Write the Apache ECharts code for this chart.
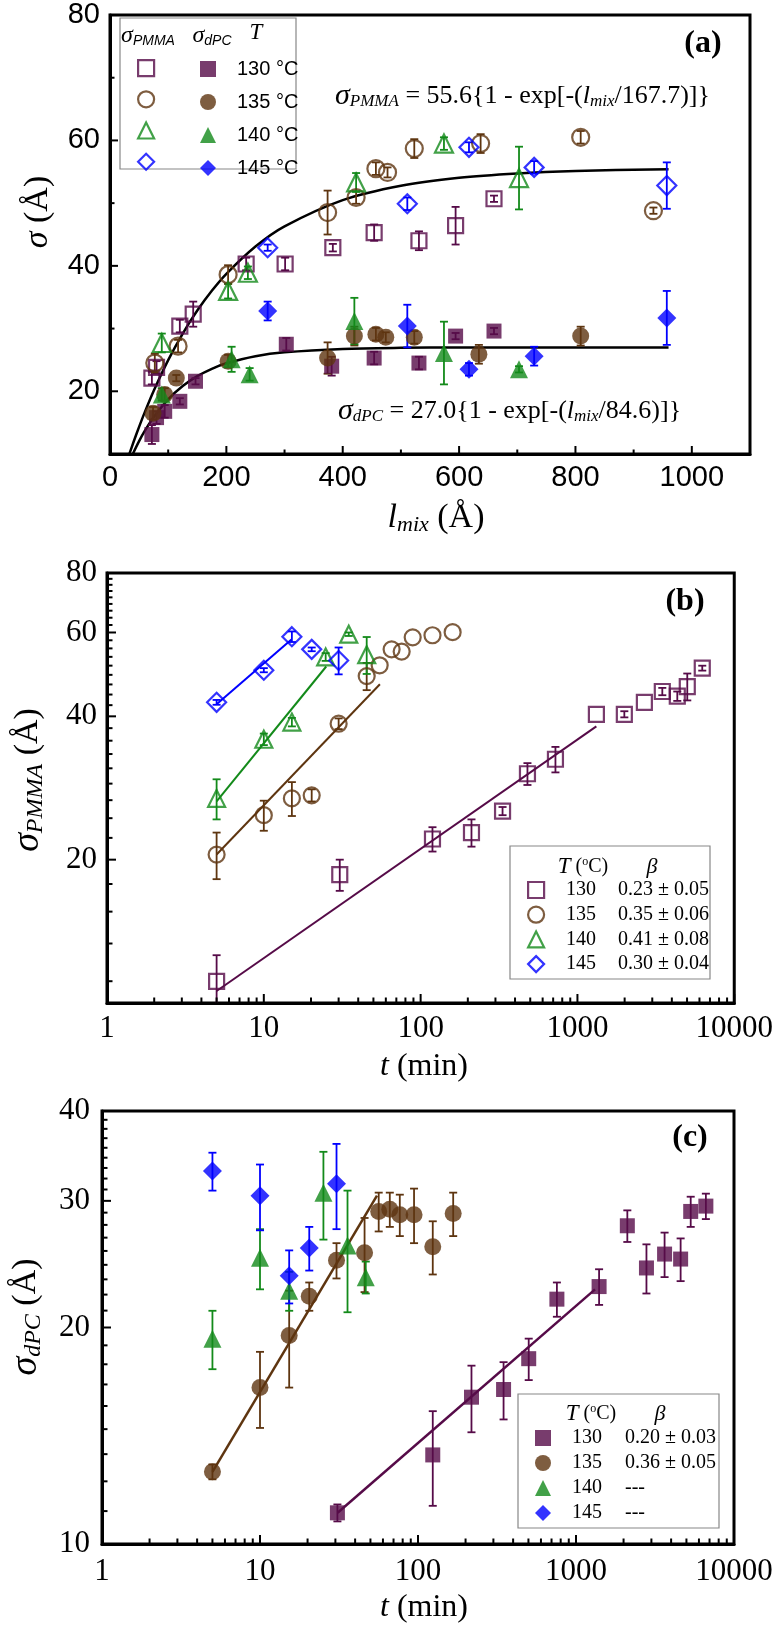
<!DOCTYPE html>
<html>
<head>
<meta charset="utf-8">
<script src="https://cdn.jsdelivr.net/npm/echarts@6/dist/echarts.min.js"></script>
<style>
  html, body { margin: 0; padding: 0; background: #fff; }
  #chart { width: 776px; height: 1631px; }
</style>
</head>
<body>
<div id="chart"></div>
<script>
const SERIF = '"Liberation Serif", "Times New Roman", serif';
const SANS = '"Liberation Sans", Arial, sans-serif';
const PURPLE = '#560b48', BROWN = '#5e3510', GREEN = '#138a1a', BLUE = '#0000ff';

// ---- (a) sigma vs l_mix ----
const aLP130 = [72, 80, 120, 143, 234, 301, 383, 454, 531, 594, 660];
const aSP130 = [22.1, 23.8, 30.4, 32.3, 40.3, 40.3, 42.9, 45.3, 44.0, 46.4, 50.7];
const aEP130 = [1.0, 1.0, 1.0, 2.0, 1.0, 1.0, 0.6, 1.3, 1.5, 3.0, 0.5];
const aLP135 = [77, 117, 203, 374, 423, 457, 477, 523, 637, 809, 934];
const aSP135 = [24.5, 27.2, 38.6, 48.5, 50.9, 55.5, 54.9, 58.7, 59.5, 60.5, 48.8];
const aEP135 = [1.5, 1.0, 1.5, 3.5, 1.0, 1.0, 0.8, 1.5, 1.5, 1.0, 0.5];
const aLP140 = [89, 203, 237, 423, 574, 703];
const aSP140 = [27.7, 36.0, 38.9, 53.3, 59.5, 54.0];
const aEP140 = [1.5, 1.2, 1.0, 1.5, 1.0, 5.0];
const aLP145 = [271, 511, 617, 729, 957];
const aSP145 = [42.9, 49.9, 58.9, 55.7, 52.8];
const aEP145 = [0.5, 1.0, 0.8, 1.0, 3.7];

const aLD130 = [72, 80, 94, 120, 147, 303, 381, 454, 531, 594, 660];
const aSD130 = [13.1, 15.8, 16.8, 18.4, 21.6, 27.5, 24.0, 25.3, 24.5, 28.8, 29.6];
const aED130 = [1.5, 1.0, 1.0, 0.5, 0.5, 1.0, 1.5, 1.0, 1.0, 0.5, 0.5];
const aLD135 = [74, 94, 114, 203, 374, 420, 457, 474, 523, 634, 809];
const aSD135 = [16.5, 19.5, 22.1, 24.8, 25.3, 28.8, 29.1, 28.6, 28.6, 25.9, 28.8];
const aED135 = [1.0, 1.0, 0.5, 1.0, 2.5, 1.5, 1.0, 0.8, 1.0, 1.5, 1.5];
const aLD140 = [89, 209, 240, 420, 574, 703];
const aSD140 = [19.5, 25.1, 22.7, 31.2, 26.1, 23.5];
const aED140 = [1.0, 2.0, 1.0, 3.7, 5.0, 0.5];
const aLD145 = [271, 511, 617, 729, 957];
const aSD145 = [32.8, 30.4, 23.5, 25.6, 31.7];
const aED145 = [1.5, 3.4, 1.0, 1.5, 4.3];

// fit curves
const aFitPL = [33, 40, 50, 60, 75, 100, 125, 150, 175, 200, 250, 300, 400, 500, 600, 700, 800, 960];
const aFitPS = [9.93, 11.8, 14.33, 16.72, 20.05, 24.97, 29.21, 32.87, 36.02, 38.73, 43.08, 46.3, 50.48, 52.78, 54.05, 54.74, 55.13, 55.42];
const aFitDL = [39, 50, 60, 75, 100, 125, 150, 175, 200, 250, 300, 400, 500, 600, 700, 800, 960];
const aFitDS = [9.97, 12.05, 13.72, 15.87, 18.72, 20.84, 22.41, 23.59, 24.46, 25.59, 26.22, 26.76, 26.93, 26.98, 27.0, 27.0, 27.0];

const aXMajor = [0, 200, 400, 600, 800, 1000];
const aXMinor = [100, 300, 500, 700, 900];
const aYMajor = [20, 40, 60, 80];
const aYMinor = [30, 50, 70];
const aLegendT = ['130', '135', '140', '145'];

// ---- (b) sigma_PMMA vs t ----
const bT130 = [5, 30.5, 119, 211, 333, 480, 724, 1321, 1991, 2672, 3477, 4333, 5017, 6252];
const bS130 = [11.1, 18.6, 22.1, 22.8, 25.3, 30.3, 32.5, 40.4, 40.4, 42.8, 45.1, 44.1, 46.2, 50.5];
const bE130 = [1.5, 1.4, 1.3, 1.5, 0.5, 1.6, 2.0, 0, 0.6, 0, 0.8, 1.0, 3.0, 0.6];
const bT135 = [5, 10, 15.1, 20.2, 30, 45.3, 54.8, 65.3, 75.7, 89, 119, 160];
const bS135 = [20.5, 24.8, 26.9, 27.3, 38.6, 48.6, 51.2, 55.3, 54.7, 58.6, 59.2, 60.1];
const bE135 = [2.3, 1.8, 2.2, 0.8, 1.0, 3.2, 0, 0, 0, 0, 0, 0];
const bT140 = [5, 10, 15.1, 24.8, 34.8, 45.3];
const bS140 = [26.9, 35.8, 38.9, 53.3, 59.5, 53.9];
const bE140 = [2.6, 1.0, 0.8, 1.0, 0.5, 4.8];
const bT145 = [5, 10, 15.1, 20.2, 30];
const bS145 = [42.8, 50.0, 58.8, 55.3, 52.4];
const bE145 = [0.5, 0.5, 1.5, 0.5, 3.4];
const bFit130T = [5, 1320], bFit130S = [10.6, 38.1];
const bFit135T = [5, 55], bFit135S = [20.5, 46.7];
const bFit140T = [5, 25], bFit140S = [26.5, 50.9];
const bFit145T = [5, 15], bFit145S = [42.4, 58.0];
const bBeta = ['0.23 ± 0.05', '0.35 ± 0.06', '0.41 ± 0.08', '0.30 ± 0.04'];

// ---- (c) sigma_dPC vs t ----
const cT130 = [30.9, 124, 218, 348, 502, 757, 1400, 2113, 2792, 3636, 4594, 5321, 6637];
const cS130 = [11.05, 13.3, 16.0, 16.4, 18.1, 21.9, 22.8, 27.7, 24.2, 25.3, 24.9, 29.0, 29.5];
const cE130 = [0.3, 2.0, 1.7, 1.5, 1.2, 1.2, 1.3, 1.4, 1.9, 1.8, 1.7, 1.4, 1.2];
const cT135 = [5, 10, 15.3, 20.5, 30.5, 45.9, 56.4, 66.3, 76.7, 94.4, 124, 167];
const cS135 = [12.6, 16.5, 19.5, 22.1, 24.8, 25.4, 29.0, 29.2, 28.7, 28.7, 25.9, 28.8];
const cE135 = [0.3, 2.0, 3.0, 1.0, 1.4, 3.0, 1.8, 1.6, 1.9, 2.5, 2.2, 2.0];
const cT140 = [5, 10, 15.3, 25.2, 35.8, 46.7];
const cS140 = [19.3, 25.0, 22.5, 30.8, 26.0, 23.5];
const cE140 = [1.8, 2.4, 1.4, 4.3, 5.0, 1.2];
const cT145 = [5, 10, 15.3, 20.5, 30.5];
const cS145 = [33.0, 30.5, 23.6, 25.8, 31.7];
const cE145 = [2.0, 3.2, 2.0, 1.8, 4.3];
const cFit130T = [31, 1320], cFit130S = [11.05, 22.6];
const cFit135T = [5, 55], cFit135S = [12.6, 30.5];
const cBeta = ['0.20 ± 0.03', '0.36 ± 0.05', '---', '---'];

const tMajor = [1, 10, 100, 1000, 10000];
const tMinor = [2, 3, 4, 5, 6, 7, 8, 9, 20, 30, 40, 50, 60, 70, 80, 90,
  200, 300, 400, 500, 600, 700, 800, 900, 2000, 3000, 4000, 5000, 6000, 7000, 8000, 9000];
const bYMajor = [20, 40, 60, 80];
const cYMajor = [10, 20, 30, 40];

// Origin style minor ticks: 8 evenly spaced values between major ticks
function minorBetween(majors, n) {
  const out = [];
  for (let i = 0; i < majors.length - 1; i++) {
    const step = (majors[i + 1] - majors[i]) / (n + 1);
    for (let k = 1; k <= n; k++) out.push(+(majors[i] + k * step).toFixed(3));
  }
  return out;
}
const bYMinor = minorBetween([0].concat(bYMajor), 8).filter(v => v > 10);
const cYMinor = minorBetween(cYMajor, 8);

// ---- helpers ----
const pairs = (xs, ys) => xs.map((x, i) => [x, ys[i]]);
const openStyle = c => ({ color: 'rgba(0,0,0,0)', borderColor: c, borderWidth: 2.2 });
const fillStyle = c => ({ color: c, borderColor: c, borderWidth: 0 });

function scatter(name, xs, ys, symbol, size, style, ax) {
  return { type: 'scatter', name, xAxisIndex: ax, yAxisIndex: ax, symbol, symbolSize: size,
    itemStyle: style, data: pairs(xs, ys), z: 4, silent: true };
}
function errBars(xs, ys, es, color, ax) {
  const data = [];
  xs.forEach((x, i) => { if (es[i] > 0) data.push([x, ys[i], ys[i] - es[i], ys[i] + es[i]]); });
  return {
    type: 'custom', xAxisIndex: ax, yAxisIndex: ax, clip: true, silent: true, z: 3, data,
    renderItem(params, api) {
      const x = api.value(0);
      const top = api.coord([x, api.value(3)]);
      const bot = api.coord([x, api.value(2)]);
      const cap = 4;
      const st = { stroke: color, lineWidth: 1.8 };
      return { type: 'group', children: [
        { type: 'line', shape: { x1: top[0], y1: top[1], x2: bot[0], y2: bot[1] }, style: st },
        { type: 'line', shape: { x1: top[0] - cap, y1: top[1], x2: top[0] + cap, y2: top[1] }, style: st },
        { type: 'line', shape: { x1: bot[0] - cap, y1: bot[1], x2: bot[0] + cap, y2: bot[1] }, style: st }
      ] };
    }
  };
}
function fitLine(xs, ys, color, width, ax, smooth) {
  return { type: 'line', xAxisIndex: ax, yAxisIndex: ax, data: pairs(xs, ys), showSymbol: false,
    smooth: smooth || false, lineStyle: { color, width }, z: 2, silent: true, clip: true };
}
// inward tick marks drawn through the axis scales: [x, y, dir(0 = x axis, 1 = y axis), major]
function ticks(ax, xMin, yMin, xMaj, xMin2, yMaj, yMin2, majLen, minLen) {
  const data = [];
  xMaj.forEach(v => data.push([v, yMin, 0, 1]));
  xMin2.forEach(v => data.push([v, yMin, 0, 0]));
  yMaj.forEach(v => data.push([xMin, v, 1, 1]));
  yMin2.forEach(v => data.push([xMin, v, 1, 0]));
  return {
    type: 'custom', xAxisIndex: ax, yAxisIndex: ax, clip: false, silent: true, z: 6, data,
    renderItem(params, api) {
      const p = api.coord([api.value(0), api.value(1)]);
      const len = api.value(3) ? majLen : minLen;
      const vertical = api.value(2) === 0;
      return { type: 'line', shape: vertical
          ? { x1: p[0], y1: p[1], x2: p[0], y2: p[1] - len }
          : { x1: p[0], y1: p[1], x2: p[0] + len, y2: p[1] },
        style: { stroke: '#000', lineWidth: 2 } };
    }
  };
}

function axis(grid, type, min, max, labels, pos, label) {
  const ax = { gridIndex: grid, type, min, max, position: pos,
    axisLine: { show: true, onZero: false, lineStyle: { color: '#000', width: 3 } },
    axisTick: { show: false },
    axisLabel: Object.assign({ customValues: labels, formatter: v => String(v), color: '#000' }, label),
    splitLine: { show: false } };
  if (type === 'log') ax.logBase = 10;
  return ax;
}

const sansLab = { fontFamily: SANS, fontSize: 29 };
const serifLab = { fontFamily: SERIF, fontSize: 31 };

const xAxis = [
  axis(0, 'value', 0, 1100, aXMajor, 'bottom', Object.assign({ margin: 9 }, sansLab)),
  axis(1, 'log', 1, 10000, tMajor, 'bottom', Object.assign({ margin: 10 }, serifLab)),
  axis(2, 'log', 1, 10000, tMajor, 'bottom', Object.assign({ margin: 12 }, serifLab))
];
const yAxis = [
  axis(0, 'value', 10, 80, aYMajor, 'left', Object.assign({ margin: 10 }, sansLab)),
  axis(1, 'log', 10, 80, bYMajor, 'left', Object.assign({ margin: 10 }, serifLab)),
  axis(2, 'log', 10, 40, cYMajor, 'left', Object.assign({ margin: 12 }, serifLab))
];

const series = [
  ticks(0, 0, 10, aXMajor, aXMinor, aYMajor, aYMinor, 8, 4.5),
  ticks(1, 1, 10, tMajor, tMinor, bYMajor, bYMinor, 9, 5.5),
  ticks(2, 1, 10, tMajor, tMinor, cYMajor, cYMinor, 9, 5.5),

  fitLine(aFitPL, aFitPS, '#000', 2.5, 0, 0.3),
  fitLine(aFitDL, aFitDS, '#000', 2.5, 0, 0.3),
  errBars(aLP130, aSP130, aEP130, PURPLE, 0), scatter('aP130', aLP130, aSP130, 'rect', 15, openStyle(PURPLE), 0),
  errBars(aLP135, aSP135, aEP135, BROWN, 0), scatter('aP135', aLP135, aSP135, 'circle', 17, openStyle(BROWN), 0),
  errBars(aLP140, aSP140, aEP140, GREEN, 0), scatter('aP140', aLP140, aSP140, 'triangle', 18, openStyle(GREEN), 0),
  errBars(aLP145, aSP145, aEP145, BLUE, 0), scatter('aP145', aLP145, aSP145, 'diamond', 19, openStyle(BLUE), 0),
  errBars(aLD130, aSD130, aED130, PURPLE, 0), scatter('aD130', aLD130, aSD130, 'rect', 15, fillStyle(PURPLE), 0),
  errBars(aLD135, aSD135, aED135, BROWN, 0), scatter('aD135', aLD135, aSD135, 'circle', 17, fillStyle(BROWN), 0),
  errBars(aLD140, aSD140, aED140, GREEN, 0), scatter('aD140', aLD140, aSD140, 'triangle', 18, fillStyle(GREEN), 0),
  errBars(aLD145, aSD145, aED145, BLUE, 0), scatter('aD145', aLD145, aSD145, 'diamond', 19, fillStyle(BLUE), 0),

  fitLine(bFit130T, bFit130S, PURPLE, 2, 1), fitLine(bFit135T, bFit135S, BROWN, 2, 1),
  fitLine(bFit140T, bFit140S, GREEN, 2, 1), fitLine(bFit145T, bFit145S, BLUE, 2, 1),
  errBars(bT130, bS130, bE130, PURPLE, 1), scatter('b130', bT130, bS130, 'rect', 15, openStyle(PURPLE), 1),
  errBars(bT135, bS135, bE135, BROWN, 1), scatter('b135', bT135, bS135, 'circle', 16, openStyle(BROWN), 1),
  errBars(bT140, bS140, bE140, GREEN, 1), scatter('b140', bT140, bS140, 'triangle', 17, openStyle(GREEN), 1),
  errBars(bT145, bS145, bE145, BLUE, 1), scatter('b145', bT145, bS145, 'diamond', 19, openStyle(BLUE), 1),

  fitLine(cFit130T, cFit130S, PURPLE, 2.5, 2), fitLine(cFit135T, cFit135S, BROWN, 2.5, 2),
  errBars(cT130, cS130, cE130, PURPLE, 2), scatter('c130', cT130, cS130, 'rect', 15, fillStyle(PURPLE), 2),
  errBars(cT135, cS135, cE135, BROWN, 2), scatter('c135', cT135, cS135, 'circle', 17, fillStyle(BROWN), 2),
  errBars(cT140, cS140, cE140, GREEN, 2), scatter('c140', cT140, cS140, 'triangle', 18, fillStyle(GREEN), 2),
  errBars(cT145, cS145, cE145, BLUE, 2), scatter('c145', cT145, cS145, 'diamond', 19, fillStyle(BLUE), 2)
];

const icons = ['rect', 'circle', 'triangle', 'diamond'];
const cols = [PURPLE, BROWN, GREEN, BLUE];
const legItems = (prefix, open) => aLegendT.map((t, i) => ({
  name: prefix + t, icon: icons[i], itemStyle: open ? openStyle(cols[i]) : fillStyle(cols[i]) }));

const betaRich = {
  n: { fontFamily: SERIF, fontSize: 20, lineHeight: 20, color: '#000', padding: [0, 0, 0, 17], width: 52 },
  b: { fontFamily: SERIF, fontSize: 20, lineHeight: 20, color: '#000' }
};
const legend = [
  { left: 137, top: 59, orient: 'vertical', padding: 0, itemWidth: 16, itemHeight: 16, itemGap: 13,
    selectedMode: false, data: legItems('aP', true), formatter: () => '',
    textStyle: { fontSize: 10, lineHeight: 16 } },
  { left: 200, top: 59, orient: 'vertical', padding: 0, itemWidth: 16, itemHeight: 16, itemGap: 13,
    selectedMode: false, data: legItems('aD', false), formatter: n => n.slice(2) + ' °C',
    textStyle: { fontFamily: SANS, fontSize: 20, lineHeight: 16, color: '#000', padding: [0, 0, 0, 16] } },
  { left: 527, top: 880, orient: 'vertical', padding: 0, itemWidth: 16, itemHeight: 16, itemGap: 4.7,
    selectedMode: false, data: legItems('b', true),
    formatter: n => '{n|' + n.slice(1) + '}{b|' + bBeta[aLegendT.indexOf(n.slice(1))] + '}',
    textStyle: { fontFamily: SERIF, fontSize: 20, lineHeight: 20, color: '#000', rich: betaRich } },
  { left: 535, top: 1428, orient: 'vertical', padding: 0, itemWidth: 16, itemHeight: 16, itemGap: 5,
    selectedMode: false, data: legItems('c', false),
    formatter: n => '{n|' + n.slice(1) + '}{b|' + cBeta[aLegendT.indexOf(n.slice(1))] + '}',
    textStyle: { fontFamily: SERIF, fontSize: 20, lineHeight: 20, color: '#000',
      rich: Object.assign({}, betaRich, { n: Object.assign({}, betaRich.n, { padding: [0, 0, 0, 16], width: 53 }) }) } }
];

// rich text styles for labels
const rt = (size, italic, drop, fam) => ({ fontFamily: fam || SERIF, fontSize: size,
  fontStyle: italic ? 'italic' : 'normal', fill: '#000', padding: [drop || 0, 0, 0, 0] });
function txt(x, y, text, rich, base, extra) {
  return Object.assign({ type: 'text', x, y, z: 10, silent: true,
    style: Object.assign({ text, rich, fill: '#000', align: 'center', verticalAlign: 'middle',
      fontFamily: SERIF }, base) }, extra || {});
}
const eqRich = { s: rt(30, true), p: rt(17, true, 12), t: rt(26), i: rt(26, true), m: rt(17, true, 12) };
const hdrRich = { s: rt(24, true), p: rt(14, true, 10, SANS), T: rt(23, true), t: rt(20), o: rt(12, false, 0), b: rt(22, true) };
hdrRich.o.padding = [0, 0, 10, 0];

const graphic = [
  { type: 'rect', shape: { x: 120, y: 18, width: 176, height: 151 }, style: { fill: '#fff', stroke: '#888', lineWidth: 1.2 }, z: 1, silent: true },
  { type: 'rect', shape: { x: 510, y: 846, width: 200, height: 133 }, style: { fill: '#fff', stroke: '#888', lineWidth: 1.2 }, z: 1, silent: true },
  { type: 'rect', shape: { x: 518, y: 1394, width: 201, height: 134 }, style: { fill: '#fff', stroke: '#888', lineWidth: 1.2 }, z: 1, silent: true },
  txt(148, 36, '{s|σ}{p|PMMA}', hdrRich, {}),
  txt(212, 36, '{s|σ}{p|dPC}', hdrRich, {}),
  txt(256, 33, '{T|T}', hdrRich, {}),
  txt(583, 867, '{T|T}{t| (}{o|o}{t|C)}', hdrRich, {}),
  txt(652, 867, '{b|β}', hdrRich, {}),
  txt(591, 1414, '{T|T}{t| (}{o|o}{t|C)}', hdrRich, {}),
  txt(660, 1414, '{b|β}', hdrRich, {}),
  txt(335, 96, '{s|σ}{p|PMMA}{t| = 55.6{1 - exp[-(}{i|l}{m|mix}{t|/167.7)]}}', eqRich, { align: 'left', fontSize: 26 }),
  txt(338, 411, '{s|σ}{p|dPC}{t| = 27.0{1 - exp[-(}{i|l}{m|mix}{t|/84.6)]}}', eqRich, { align: 'left', fontSize: 26 }),
  txt(703, 44, '(a)', null, { fontSize: 32, fontWeight: 'bold' }),
  txt(685, 602, '(b)', null, { fontSize: 32, fontWeight: 'bold' }),
  txt(690, 1138, '(c)', null, { fontSize: 32, fontWeight: 'bold' }),
  // axis titles
  txt(436, 518, '{i|l}{m|mix}{t| (Å)}', { i: rt(34, true), m: rt(22, true, 14), t: rt(34) }, { fontSize: 34 }),
  txt(38, 212, '{s|σ}{t| (Å)}', { s: rt(34, true), t: rt(34) }, { fontSize: 34 }, { rotation: Math.PI / 2 }),
  txt(424, 1067, '{i|t}{t| (min)}', { i: rt(32, true), t: rt(32) }, { fontSize: 32 }),
  txt(424, 1608, '{i|t}{t| (min)}', { i: rt(32, true), t: rt(32) }, { fontSize: 32 }),
  txt(28, 780, '{s|σ}{p|PMMA}{t| (Å)}', { s: rt(38, true), p: rt(24, true, 16), t: rt(34) }, { fontSize: 34 }, { rotation: Math.PI / 2 }),
  txt(26, 1317, '{s|σ}{p|dPC}{t| (Å)}', { s: rt(38, true), p: rt(24, true, 16), t: rt(34) }, { fontSize: 34 }, { rotation: Math.PI / 2 })
];

const frame = { show: true, borderColor: '#000', borderWidth: 3, backgroundColor: 'rgba(0,0,0,0)' };
const option = {
  animation: false,
  backgroundColor: '#fff',
  textStyle: { fontFamily: SERIF },
  grid: [
    Object.assign({ left: 110, top: 15, width: 640, height: 439 }, frame),
    Object.assign({ left: 107, top: 573, width: 630, height: 430 }, frame),
    Object.assign({ left: 102, top: 1111, width: 632, height: 433 }, frame)
  ],
  xAxis, yAxis, legend, series,
  graphic: { elements: graphic }
};

const chart = echarts.init(document.getElementById('chart'), null, { renderer: 'canvas' });
chart.setOption(option);
</script>
</body>
</html>
